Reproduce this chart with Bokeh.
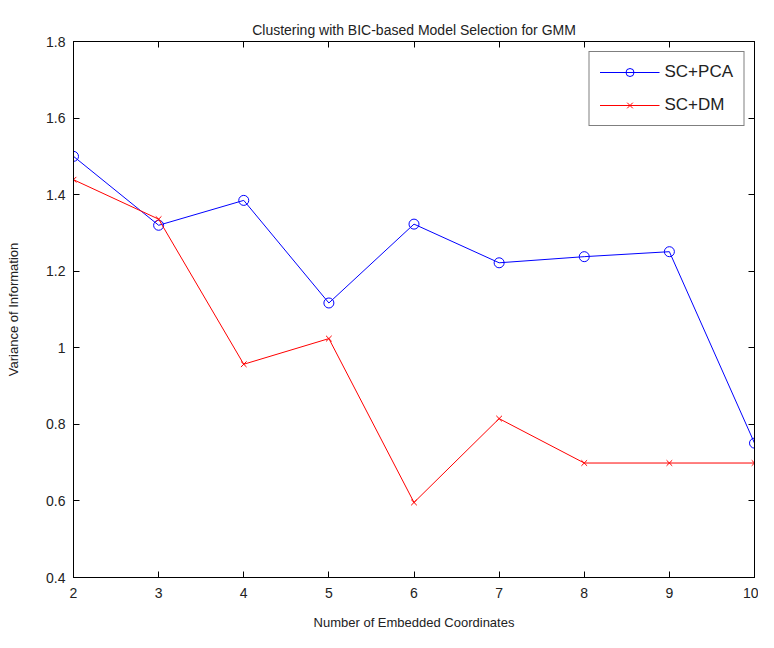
from bokeh.plotting import figure
from bokeh.models import LinearAxis, Range1d, FixedTicker, Legend, LegendItem
from bokeh.embed import file_html
from bokeh.resources import INLINE

x_coords = [2, 3, 4, 5, 6, 7, 8, 9, 10]
sc_pca = [1.50, 1.32, 1.385, 1.117, 1.323, 1.222, 1.238, 1.251, 0.751]
sc_dm = [1.439, 1.336, 0.957, 1.024, 0.596, 0.815, 0.699, 0.699, 0.699]
x_ticks = [2, 3, 4, 5, 6, 7, 8, 9, 10]
y_ticks = [0.4, 0.6, 0.8, 1.0, 1.2, 1.4, 1.6, 1.8]
y_labels = {0.4: "0.4", 0.6: "0.6", 0.8: "0.8", 1.0: "1", 1.2: "1.2", 1.4: "1.4", 1.6: "1.6", 1.8: "1.8"}

FONT = "Liberation Sans"

p = figure(width=758, height=632, output_backend="svg", toolbar_location=None,
           x_range=Range1d(2, 10), y_range=Range1d(0.4, 1.8),
           x_axis_location=None, y_axis_location=None,
           min_border_left=73, min_border_right=4, min_border_top=41, min_border_bottom=52)

p.title.text = "Clustering with BIC-based Model Selection for GMM"
p.title.align = "center"
p.title.text_font = FONT
p.title.text_font_size = "14px"
p.title.text_font_style = "normal"
p.title.text_color = "#222222"
p.title.offset = 0
p.title.standoff = 7

p.xgrid.visible = False
p.ygrid.visible = False
p.outline_line_color = "black"
p.outline_line_width = 1

def style_axis(ax, labels=True):
    ax.major_tick_in = 6
    ax.major_tick_out = 0
    ax.minor_tick_in = 0
    ax.minor_tick_out = 0
    ax.axis_line_color = "black"
    ax.major_tick_line_color = "black"
    ax.major_label_text_font = FONT
    ax.major_label_text_font_size = "14px"
    ax.major_label_text_color = "#222222"
    ax.axis_label_text_font = FONT
    ax.axis_label_text_font_size = "13px"
    ax.axis_label_text_font_style = "normal"
    ax.axis_label_text_color = "#222222"
    if not labels:
        ax.major_label_text_font_size = "0px"
        ax.major_label_text_alpha = 0

xb = LinearAxis(ticker=FixedTicker(ticks=x_ticks), axis_label="Number of Embedded Coordinates")
style_axis(xb)
xb.major_label_standoff = 10
xb.axis_label_standoff = 14
p.add_layout(xb, "below")

yl = LinearAxis(ticker=FixedTicker(ticks=y_ticks), axis_label="Variance of Information",
                major_label_overrides=y_labels)
style_axis(yl)
yl.major_label_standoff = 8
yl.axis_label_standoff = 22
p.add_layout(yl, "left")

xt = LinearAxis(ticker=FixedTicker(ticks=x_ticks))
style_axis(xt, labels=False)
xt.major_label_standoff = 0
p.add_layout(xt, "above")

yr = LinearAxis(ticker=FixedTicker(ticks=y_ticks))
style_axis(yr, labels=False)
yr.major_label_standoff = 0
p.add_layout(yr, "right")

l1 = p.line(x_coords, sc_pca, line_color="blue", line_width=1)
m1 = p.scatter(x_coords, sc_pca, marker="circle", size=10, fill_color=None, line_color="blue", line_width=1)
l2 = p.line(x_coords, sc_dm, line_color="red", line_width=1)
m2 = p.scatter(x_coords, sc_dm, marker="x", size=8, line_color="red", line_width=1)

legend = Legend(items=[LegendItem(label="SC+PCA", renderers=[l1, m1]),
                       LegendItem(label="SC+DM", renderers=[l2, m2])],
                location="top_right")
legend.label_text_font = FONT
legend.label_text_font_size = "17px"
legend.label_text_color = "#222222"
legend.label_standoff = 5
legend.glyph_width = 60
legend.glyph_height = 20
legend.spacing = 13
legend.padding = 10
legend.margin = 10
legend.border_line_color = "black"
legend.border_line_width = 1
legend.background_fill_alpha = 1
p.add_layout(legend, "center")

open("out.html", "w").write(file_html(p, INLINE))
